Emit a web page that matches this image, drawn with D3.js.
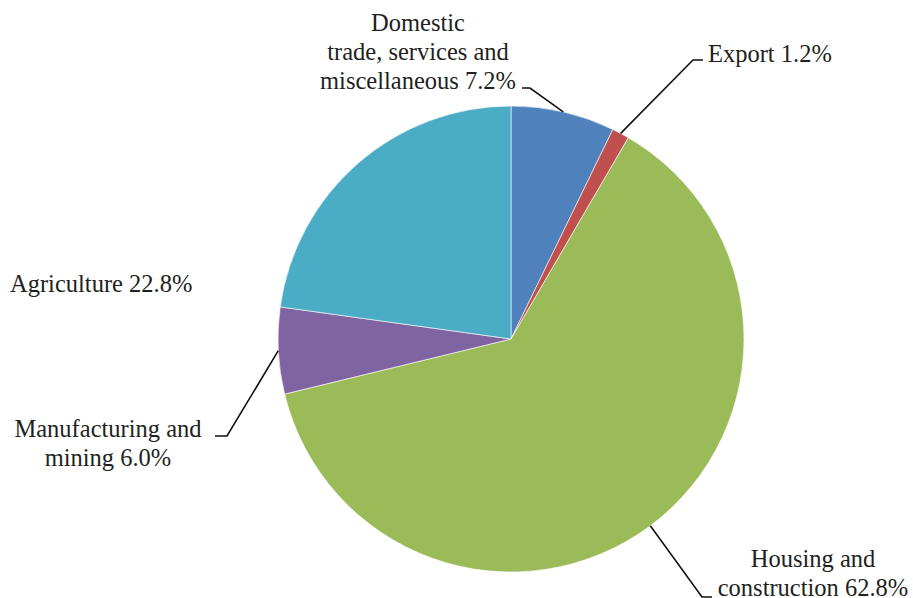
<!DOCTYPE html>
<html>
<head>
<meta charset="utf-8">
<style>
  body { margin: 0; background: #fff; }
  text { font-family: "Liberation Serif", "Times New Roman", serif; font-size: 24.5px; fill: #231f20; }
</style>
</head>
<body>
<svg id="chart" width="913" height="598"></svg>
<script src="https://d3js.org/d3.v7.min.js"></script>
<script>
var sectors = ['Domestic trade, services and miscellaneous', 'Export', 'Housing and construction', 'Manufacturing and mining', 'Agriculture'];
var shares = [7.2, 1.2, 62.8, 6.0, 22.8];
var labelLines = [
  ['Domestic', 'trade, services and', 'miscellaneous 7.2%'],
  ['Export 1.2%'],
  ['Housing and', 'construction 62.8%'],
  ['Manufacturing and', 'mining 6.0%'],
  ['Agriculture 22.8%']
];
var colors = ['#4f81bd', '#c0504d', '#9bbb59', '#8064a2', '#4bacc6'];

var cx = 511, cy = 339, r = 233;

// hand placed label boxes, like the original: anchor, x, first baseline, leader elbow
var labelPos = [
  { anchor: 'middle', x: 418, y: 31, elbow: [[530, 88], [522, 88]] },
  { anchor: 'start', x: 708, y: 62, elbow: [[693, 60], [703, 60]] },
  { anchor: 'middle', x: 813, y: 567, elbow: [[702, 597], [712, 597]] },
  { anchor: 'middle', x: 108, y: 437, elbow: [[227, 436], [215, 436]] },
  { anchor: 'start', x: 10, y: 292, elbow: null }
];

var svg = d3.select('#chart');
var g = svg.append('g').attr('transform', 'translate(' + cx + ',' + cy + ')');

var data = sectors.map(function (s, i) { return { name: s, value: shares[i], i: i }; });
var pie = d3.pie().sort(null).value(function (d) { return d.value; });
var arc = d3.arc().innerRadius(0).outerRadius(r);
var arcs = pie(data);

g.selectAll('path.slice').data(arcs).enter()
  .append('path')
  .attr('class', 'slice')
  .attr('d', arc)
  .attr('fill', function (d) { return colors[d.data.i]; })
  .attr('stroke', '#fff')
  .attr('stroke-width', 0.6);

// leader lines from the slice edge at mid angle to the label elbow
arcs.forEach(function (d) {
  var p = labelPos[d.data.i];
  if (!p.elbow) return;
  var mid = (d.startAngle + d.endAngle) / 2;
  var edge = [cx + r * Math.sin(mid), cy - r * Math.cos(mid)];
  svg.append('polyline')
    .attr('points', [edge, p.elbow[0], p.elbow[1]].map(function (q) { return q.join(','); }).join(' '))
    .attr('fill', 'none')
    .attr('stroke', '#111')
    .attr('stroke-width', 1.6);
});

var lineH = 29;
labelLines.forEach(function (lines, i) {
  var p = labelPos[i];
  var t = svg.append('text').attr('text-anchor', p.anchor);
  lines.forEach(function (ln, k) {
    t.append('tspan').attr('x', p.x).attr('y', p.y + k * lineH).text(ln);
  });
});
</script>
</body>
</html>
